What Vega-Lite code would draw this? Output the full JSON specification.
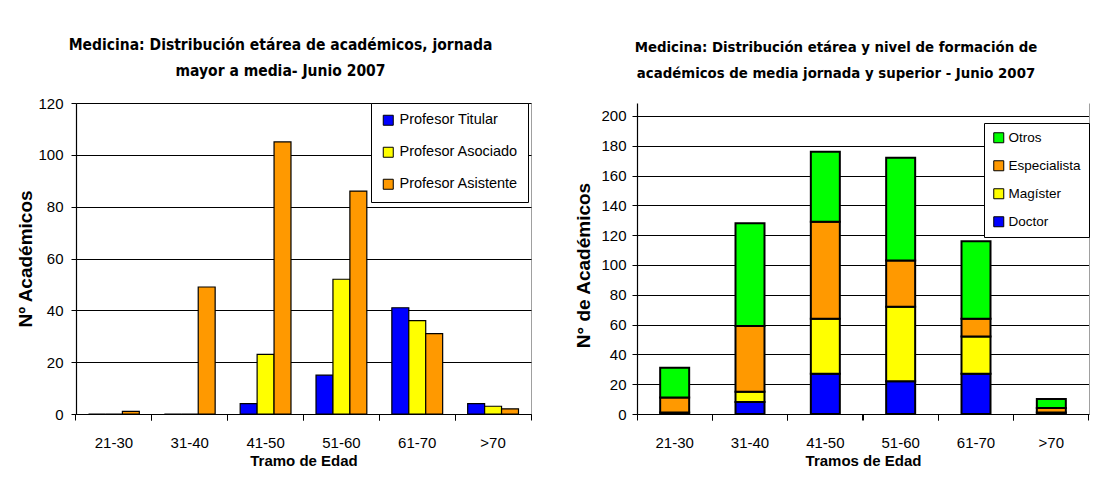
{
  "$schema": "https://vega.github.io/schema/vega-lite/v6.json",
  "background": "white",
  "padding": {"left": 16, "top": 37, "right": 2, "bottom": 2},
  "spacing": 42,
  "resolve": {"scale": {"color": "independent"}, "legend": {"color": "independent"}},
  "config": {
    "view": {"stroke": "#a0a0a0", "strokeWidth": 1},
    "axis": {
      "labelFont": "Liberation Sans", "labelFontSize": 15, "labelColor": "black",
      "titleFont": "Liberation Sans", "titleFontSize": 15, "titleFontWeight": "bold", "titleColor": "black",
      "domainColor": "black", "tickColor": "black", "gridColor": "black", "gridWidth": 1, "domainWidth": 1.2
    },
    "legend": {
      "title": null, "strokeColor": "black", "fillColor": "white",
      "symbolType": "square", "symbolSize": 100, "symbolStrokeColor": "black", "symbolStrokeWidth": 1, "symbolOpacity": 1,
      "labelFont": "Liberation Sans", "labelFontSize": 14.5, "labelColor": "black", "labelOffset": 4
    }
  },
  "hconcat": [
    {
      "width": 455,
      "height": 311,
      "title": {
        "text": ["Medicina: Distribución etárea de académicos, jornada", "mayor a media- Junio 2007"],
        "font": "Liberation Sans Narrow, DejaVu Sans Condensed, sans-serif",
        "fontSize": 15.5, "fontWeight": "bold", "lineHeight": 26, "offset": 17, "dx": -23, "anchor": "middle", "color": "black"
      },
      "data": {"values": [
        {"tramo": "21-30", "cargo": "Profesor Titular", "n": 0},
        {"tramo": "21-30", "cargo": "Profesor Asociado", "n": 0},
        {"tramo": "21-30", "cargo": "Profesor Asistente", "n": 1},
        {"tramo": "31-40", "cargo": "Profesor Titular", "n": 0},
        {"tramo": "31-40", "cargo": "Profesor Asociado", "n": 0},
        {"tramo": "31-40", "cargo": "Profesor Asistente", "n": 49},
        {"tramo": "41-50", "cargo": "Profesor Titular", "n": 4},
        {"tramo": "41-50", "cargo": "Profesor Asociado", "n": 23},
        {"tramo": "41-50", "cargo": "Profesor Asistente", "n": 105},
        {"tramo": "51-60", "cargo": "Profesor Titular", "n": 15},
        {"tramo": "51-60", "cargo": "Profesor Asociado", "n": 52},
        {"tramo": "51-60", "cargo": "Profesor Asistente", "n": 86},
        {"tramo": "61-70", "cargo": "Profesor Titular", "n": 41},
        {"tramo": "61-70", "cargo": "Profesor Asociado", "n": 36},
        {"tramo": "61-70", "cargo": "Profesor Asistente", "n": 31},
        {"tramo": ">70", "cargo": "Profesor Titular", "n": 4},
        {"tramo": ">70", "cargo": "Profesor Asociado", "n": 3},
        {"tramo": ">70", "cargo": "Profesor Asistente", "n": 2}
      ]},
      "resolve": {"axis": {"x": "independent", "y": "independent"}},
      "layer": [
        {
          "mark": {"type": "bar", "stroke": "black", "strokeWidth": 1.2},
          "encoding": {
            "x": {"field": "tramo", "type": "nominal", "sort": ["21-30", "31-40", "41-50", "51-60", "61-70", ">70"],
                  "scale": {"paddingInner": 0.33, "paddingOuter": 0.165},
                  "axis": {"orient": "bottom", "title": "Tramo de Edad", "labelAngle": 0, "ticks": false, "labelPadding": 21, "titlePadding": 3, "domain": true}},
            "xOffset": {"field": "cargo", "type": "nominal", "sort": ["Profesor Titular", "Profesor Asociado", "Profesor Asistente"]},
            "y": {"field": "n", "type": "quantitative", "scale": {"domain": [0, 120], "nice": false},
                  "axis": {"orient": "left", "title": "Nº Académicos", "titleFontSize": 19, "values": [0, 20, 40, 60, 80, 100, 120], "grid": true, "tickSize": 5, "labelPadding": 8, "titlePadding": 2}},
            "color": {"field": "cargo", "type": "nominal",
                      "scale": {"domain": ["Profesor Titular", "Profesor Asociado", "Profesor Asistente"], "range": ["#0000ff", "#ffff00", "#ff9900"]},
                      "legend": {"orient": "none", "legendX": 295, "legendY": 0, "padding": 10, "rowPadding": 16}}
          }
        },
        {
          "mark": {"type": "point", "opacity": 0},
          "encoding": {
            "x": {"field": "tramo", "type": "nominal", "sort": ["21-30", "31-40", "41-50", "51-60", "61-70", ">70"],
                  "axis": {"orient": "bottom", "title": null, "labels": false, "ticks": true, "tickSize": 6, "bandPosition": -0.2463, "domain": false, "grid": false}},
            "y": {"field": "n", "type": "quantitative", "axis": null}
          }
        },
        {
          "mark": {"type": "point", "opacity": 0},
          "encoding": {
            "x": {"field": "tramo", "type": "nominal", "sort": ["21-30", "31-40", "41-50", "51-60", "61-70", ">70"],
                  "axis": {"orient": "bottom", "title": null, "labels": false, "ticks": true, "tickSize": 6, "bandPosition": 1.2463, "domain": false, "grid": false}},
            "y": {"field": "n", "type": "quantitative", "axis": null}
          }
        }
      ]
    },
    {
      "width": 452,
      "height": 311,
      "view": {"stroke": null},
      "title": {
        "text": ["Medicina: Distribución etárea y nivel de formación de", "académicos de media jornada y superior - Junio 2007"],
        "font": "Liberation Sans Narrow, DejaVu Sans Condensed, sans-serif",
        "fontSize": 14.8, "fontWeight": "bold", "lineHeight": 26, "offset": 22, "dx": -27, "anchor": "middle", "color": "black"
      },
      "data": {"values": [
        {"tramo": "21-30", "nivel": "Doctor", "orden": 1, "n": 0},
        {"tramo": "21-30", "nivel": "Magíster", "orden": 2, "n": 1},
        {"tramo": "21-30", "nivel": "Especialista", "orden": 3, "n": 10},
        {"tramo": "21-30", "nivel": "Otros", "orden": 4, "n": 20},
        {"tramo": "31-40", "nivel": "Doctor", "orden": 1, "n": 8},
        {"tramo": "31-40", "nivel": "Magíster", "orden": 2, "n": 7},
        {"tramo": "31-40", "nivel": "Especialista", "orden": 3, "n": 44},
        {"tramo": "31-40", "nivel": "Otros", "orden": 4, "n": 69},
        {"tramo": "41-50", "nivel": "Doctor", "orden": 1, "n": 27},
        {"tramo": "41-50", "nivel": "Magíster", "orden": 2, "n": 37},
        {"tramo": "41-50", "nivel": "Especialista", "orden": 3, "n": 65},
        {"tramo": "41-50", "nivel": "Otros", "orden": 4, "n": 47},
        {"tramo": "51-60", "nivel": "Doctor", "orden": 1, "n": 22},
        {"tramo": "51-60", "nivel": "Magíster", "orden": 2, "n": 50},
        {"tramo": "51-60", "nivel": "Especialista", "orden": 3, "n": 31},
        {"tramo": "51-60", "nivel": "Otros", "orden": 4, "n": 69},
        {"tramo": "61-70", "nivel": "Doctor", "orden": 1, "n": 27},
        {"tramo": "61-70", "nivel": "Magíster", "orden": 2, "n": 25},
        {"tramo": "61-70", "nivel": "Especialista", "orden": 3, "n": 12},
        {"tramo": "61-70", "nivel": "Otros", "orden": 4, "n": 52},
        {"tramo": ">70", "nivel": "Doctor", "orden": 1, "n": 0},
        {"tramo": ">70", "nivel": "Magíster", "orden": 2, "n": 1},
        {"tramo": ">70", "nivel": "Especialista", "orden": 3, "n": 3},
        {"tramo": ">70", "nivel": "Otros", "orden": 4, "n": 6}
      ]},
      "resolve": {"axis": {"x": "independent", "y": "independent"}},
      "layer": [
        {
          "mark": {"type": "bar", "stroke": "black", "strokeWidth": 2},
          "encoding": {
            "x": {"field": "tramo", "type": "nominal", "sort": ["21-30", "31-40", "41-50", "51-60", "61-70", ">70"],
                  "scale": {"paddingInner": 0.615, "paddingOuter": 0.3075},
                  "axis": {"orient": "bottom", "title": "Tramos de Edad", "labelAngle": 0, "ticks": false, "labelPadding": 21, "titlePadding": 3, "domain": true}},
            "y": {"field": "n", "type": "quantitative", "stack": "zero", "scale": {"domain": [0, 208.72], "nice": false},
                  "axis": {"orient": "left", "title": "N° de Académicos", "titleFontSize": 19, "titleY": 162, "values": [0, 20, 40, 60, 80, 100, 120, 140, 160, 180, 200], "grid": true, "tickSize": 5, "labelPadding": 6, "titlePadding": 7}},
            "order": {"field": "orden", "type": "quantitative", "sort": "ascending"},
            "color": {"field": "nivel", "type": "nominal",
                      "scale": {"domain": ["Otros", "Especialista", "Magíster", "Doctor"], "range": ["#00ff00", "#ff9900", "#ffff00", "#0000ff"]},
                      "legend": {"orient": "none", "legendX": 347, "legendY": 20, "padding": 8, "rowPadding": 13, "labelFontSize": 13.5, "labelOffset": 3}}
          }
        },
        {
          "mark": {"type": "point", "opacity": 0},
          "encoding": {
            "x": {"field": "tramo", "type": "nominal", "sort": ["21-30", "31-40", "41-50", "51-60", "61-70", ">70"],
                  "axis": {"orient": "bottom", "title": null, "labels": false, "ticks": true, "tickSize": 6, "bandPosition": -0.7987, "domain": false, "grid": false}},
            "y": {"field": "n", "type": "quantitative",
                  "axis": {"orient": "right", "title": null, "labels": false, "ticks": false, "grid": false, "domain": true, "domainColor": "#a0a0a0", "domainWidth": 1}}
          }
        },
        {
          "mark": {"type": "point", "opacity": 0},
          "encoding": {
            "x": {"field": "tramo", "type": "nominal", "sort": ["21-30", "31-40", "41-50", "51-60", "61-70", ">70"],
                  "axis": {"orient": "bottom", "title": null, "labels": false, "ticks": true, "tickSize": 6, "bandPosition": 1.7987, "domain": false, "grid": false}},
            "y": {"field": "n", "type": "quantitative", "axis": null}
          }
        }
      ]
    }
  ]
}
